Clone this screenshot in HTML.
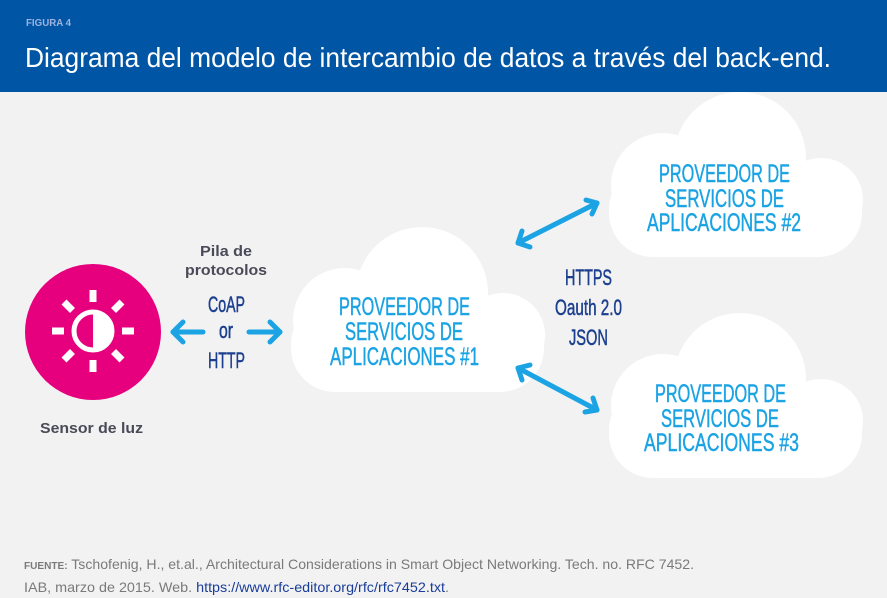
<!DOCTYPE html>
<html><head><meta charset="utf-8"><style>
html,body{margin:0;padding:0;background:#f2f2f2;}
svg{display:block;font-family:"Liberation Sans",sans-serif;}
</style></head><body>
<svg width="887" height="598" viewBox="0 0 887 598" xmlns="http://www.w3.org/2000/svg">
<rect width="887" height="598" fill="#f2f2f2"/>
<rect width="887" height="92" fill="#0055a5"/>
<text x="26" y="26" font-size="10" font-weight="bold" fill="#9fb3df" textLength="45" lengthAdjust="spacingAndGlyphs">FIGURA 4</text>
<text x="25" y="67" font-size="28" fill="#ffffff" textLength="806" lengthAdjust="spacingAndGlyphs">Diagrama del modelo de intercambio de datos a través del back-end.</text>

<defs>
<g id="cloud" fill="#ffffff">
<rect x="291" y="300" width="253" height="92" rx="44"/>
<circle cx="422" cy="293" r="66"/>
<circle cx="345" cy="320" r="52"/>
<circle cx="503" cy="335" r="42"/>
</g>
</defs>
<use href="#cloud"/>
<use href="#cloud" transform="translate(318,-135)"/>
<use href="#cloud" transform="translate(318,86)"/>

<g fill="#1ba3e3" stroke="#1ba3e3" stroke-width="0.5" font-size="25">
<text x="339" y="315" textLength="131" lengthAdjust="spacingAndGlyphs">PROVEEDOR DE</text>
<text x="345" y="340" textLength="118" lengthAdjust="spacingAndGlyphs">SERVICIOS DE</text>
<text x="330" y="365" textLength="149" lengthAdjust="spacingAndGlyphs">APLICACIONES #1</text>
<text x="659" y="182" textLength="131" lengthAdjust="spacingAndGlyphs">PROVEEDOR DE</text>
<text x="665" y="207" textLength="119" lengthAdjust="spacingAndGlyphs">SERVICIOS DE</text>
<text x="647" y="231" textLength="154" lengthAdjust="spacingAndGlyphs">APLICACIONES #2</text>
<text x="655" y="402" textLength="131" lengthAdjust="spacingAndGlyphs">PROVEEDOR DE</text>
<text x="661" y="427" textLength="118" lengthAdjust="spacingAndGlyphs">SERVICIOS DE</text>
<text x="644" y="451" textLength="155" lengthAdjust="spacingAndGlyphs">APLICACIONES #3</text>
</g>

<g fill="#1c3f8f" stroke="#1c3f8f" stroke-width="0.5" font-size="22">
<text x="565" y="285" textLength="47" lengthAdjust="spacingAndGlyphs">HTTPS</text>
<text x="555" y="315" textLength="67" lengthAdjust="spacingAndGlyphs">Oauth 2.0</text>
<text x="569" y="345" textLength="39" lengthAdjust="spacingAndGlyphs">JSON</text>
<text x="208" y="312" textLength="37" lengthAdjust="spacingAndGlyphs">CoAP</text>
<text x="219" y="338" textLength="14" lengthAdjust="spacingAndGlyphs">or</text>
<text x="208" y="368" textLength="37" lengthAdjust="spacingAndGlyphs">HTTP</text>
</g>

<g fill="#4a4a58" font-size="15" font-weight="bold">
<text x="200" y="256" textLength="52" lengthAdjust="spacingAndGlyphs">Pila de</text>
<text x="185" y="275" textLength="82" lengthAdjust="spacingAndGlyphs">protocolos</text>
<text x="40" y="433" textLength="103" lengthAdjust="spacingAndGlyphs">Sensor de luz</text>
</g>

<g stroke="#1ba3e3" stroke-width="5" fill="none" stroke-linecap="round" stroke-linejoin="round">
<line x1="173" y1="332" x2="203" y2="332"/><polyline points="183,322 173,332 183,342"/>
<line x1="249" y1="332" x2="280" y2="332"/><polyline points="270,322 280,332 270,342"/>
<line x1="518" y1="243" x2="597" y2="203"/>
<polyline points="522,231 518,243 530,247"/><polyline points="586,200 597,203 592,214"/>
<line x1="518" y1="368" x2="597" y2="410"/>
<polyline points="522,380 518,368 530,365"/><polyline points="593,398 597,410 585,412"/>
</g>

<circle cx="93" cy="332" r="68" fill="#e6007e"/>
<g fill="#ffffff">
<circle cx="93" cy="331" r="19" fill="none" stroke="#fff" stroke-width="5"/>
<path d="M93 312 A19 19 0 0 1 93 350 Z"/>
<g transform="translate(93,331)">
<rect x="-3.5" y="-41" width="7" height="12"/>
<rect x="-3.5" y="29" width="7" height="12"/>
<rect x="-41" y="-3.5" width="12" height="7"/>
<rect x="29" y="-3.5" width="12" height="7"/>
<g transform="rotate(45)"><rect x="-3.5" y="-41" width="7" height="12"/><rect x="-3.5" y="29" width="7" height="12"/><rect x="-41" y="-3.5" width="12" height="7"/><rect x="29" y="-3.5" width="12" height="7"/></g>
</g>
</g>

<text x="24" y="569" font-size="14" fill="#7a7a7a" textLength="670" lengthAdjust="spacingAndGlyphs"><tspan font-weight="bold" font-size="10">FUENTE:</tspan> Tschofenig, H., et.al., Architectural Considerations in Smart Object Networking. Tech. no. RFC 7452.</text>
<text x="24" y="592" font-size="14" fill="#7a7a7a" textLength="425" lengthAdjust="spacingAndGlyphs">IAB, marzo de 2015. Web. <tspan fill="#1a3d99">https://www.rfc-editor.org/rfc/rfc7452.txt</tspan>.</text>
</svg>
</body></html>
